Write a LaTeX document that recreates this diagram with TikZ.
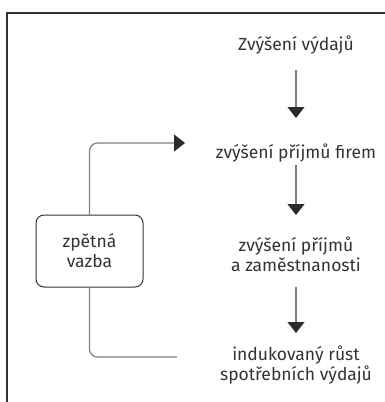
\documentclass[tikz,border=0pt]{standalone}
\usepackage{fontspec}
\setmainfont{Fira Sans}
\usetikzlibrary{arrows.meta}
\definecolor{txt}{HTML}{333333}
\definecolor{ln}{HTML}{808080}
\definecolor{tip}{HTML}{2B2B2B}
\tikzset{
  lbl/.style={text=txt, font=\fontsize{17.5}{20}\selectfont, align=center, inner sep=0pt},
  arr/.style={draw=ln, line width=1.2pt, -{Triangle[length=11pt,width=17pt,color=tip]}},
  fbl/.style={draw=ln, line width=1.2pt, rounded corners=8pt},
  fbox/.style={draw=txt, line width=1pt, rounded corners=8pt, minimum width=107pt, minimum height=72pt, text=txt, font=\fontsize{17.5}{20}\selectfont, align=center, inner sep=0pt},
  frame/.style={draw=txt, line width=2pt}
}
\begin{document}
\begin{tikzpicture}[x=1pt,y=-1pt]
\useasboundingbox (0,0) rectangle (384,402);
\draw[frame] (7,404) -- (7,13) -- (386,13);
\node[lbl] (n1) at (296,45) {Zvýšení výdajů};
\node[lbl] (n2) at (296,153) {zvýšení příjmů firem};
\node[lbl] (n3) at (296,254) {zvýšení příjmů\\a zaměstnanosti};
\node[lbl] (n4) at (296,365) {indukovaný růst\\spotřebních výdajů};
\node[fbox] (fb) at (89.5,251) {zpětná\\vazba};
\coordinate (top) at (185,143);
\coordinate (bot) at (177,357);
\draw[arr, shorten <=25pt, shorten >=35pt] (n1.center) -- (n2.center);
\draw[arr, shorten <=12pt, shorten >=39pt] (n2.center) -- (n3.center);
\draw[arr, shorten <=33pt, shorten >=32pt] (n3.center) -- (n4.center);
\draw[arr, rounded corners=8pt] (fb.north) |- (top);
\draw[fbl] (fb.south) |- (bot);
\end{tikzpicture}
\end{document}
